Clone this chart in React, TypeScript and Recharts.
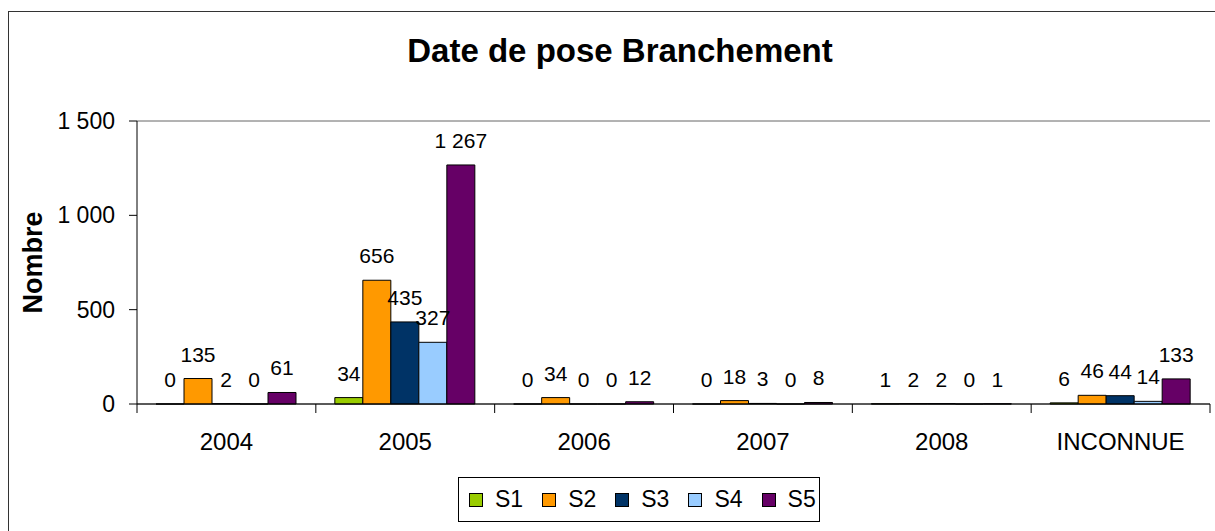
import React from 'react';
import { BarChart, Bar, XAxis, YAxis, CartesianGrid, LabelList, Label } from 'recharts';

const categories = ['2004', '2005', '2006', '2007', '2008', 'INCONNUE'];
const s1 = [0, 34, 0, 0, 1, 6];
const s2 = [135, 656, 34, 18, 2, 46];
const s3 = [2, 435, 0, 3, 2, 44];
const s4 = [0, 327, 0, 0, 0, 14];
const s5 = [61, 1267, 12, 8, 1, 133];
const yTicks = [0, 500, 1000, 1500];

const seriesNames = ['S1', 'S2', 'S3', 'S4', 'S5'];
const seriesColors = ['#99CC00', '#FF9900', '#003366', '#99CCFF', '#660066'];

const data = categories.map((c, i) => ({
  name: c,
  S1: s1[i],
  S2: s2[i],
  S3: s3[i],
  S4: s4[i],
  S5: s5[i],
}));

const FONT = 'Arial, "Liberation Sans", sans-serif';

// "1267" -> "1 267"
const fmt = (v: any) => String(v).replace(/\B(?=(\d{3})+(?!\d))/g, ' ');

// category label centred, tick marks on the category boundaries
const XTick = (props: any) => {
  const { x, y, payload, index } = props;
  const half = payload?.offset ?? 89.4;
  const last = index === categories.length - 1;
  return (
    <g>
      <line x1={x - half} x2={x - half} y1={y} y2={y + 9} stroke="#000" />
      {last && <line x1={x + half} x2={x + half} y1={y} y2={y + 9} stroke="#000" />}
      <text x={x} y={y + 46} textAnchor="middle" fontSize={24} fontFamily={FONT} fill="#000">
        {payload.value}
      </text>
    </g>
  );
};

// value label above the bar, no wrapping
const BarValue = (p: any) => {
  if (p.value === undefined || p.value === null) return null;
  const cx = Number(p.x) + Number(p.width) / 2;
  const top = Math.min(Number(p.y), Number(p.y) + Number(p.height));
  return (
    <text x={cx} y={top - 17} textAnchor="middle" fontSize={21} fontFamily={FONT} fill="#000">
      {fmt(p.value)}
    </text>
  );
};

// zero bars get a hairline so their "0" label is still drawn
const zeroMin = (v: any) => (Number(v) === 0 ? 0.01 : 0);

export default function App() {
  return (
    <div style={{ position: 'absolute', left: 0, top: 0, width: 1215, height: 531, overflow: 'hidden', background: '#fff', fontFamily: FONT }}>
      <div style={{ position: 'absolute', left: 8, top: 11, width: 1230, height: 600, border: '1px solid #333' }} />
      <div style={{ position: 'absolute', left: 320, width: 600, top: 32, textAlign: 'center', fontSize: 33, fontWeight: 'bold', color: '#000' }}>
        Date de pose Branchement
      </div>

      <div style={{ position: 'absolute', left: 0, top: 0 }}>
        <BarChart
          width={1215}
          height={531}
          data={data}
          margin={{ top: 121, right: 5, left: 0, bottom: 67 }}
          barGap={0}
          barSize={28}
        >
          <CartesianGrid horizontal vertical={false} stroke="#666" />
          <XAxis
            dataKey="name"
            height={60}
            stroke="#000"
            tickLine={false}
            tickSize={0}
            tickMargin={0}
            tick={<XTick />}
            interval={0}
          />
          <YAxis
            yAxisId="l"
            width={137}
            domain={[0, 1500]}
            ticks={yTicks}
            tickFormatter={fmt}
            stroke="#000"
            tickSize={8}
            tickMargin={14}
            tick={{ fontSize: 23, fill: '#000', fontFamily: FONT }}
          >
            <Label
              content={(p: any) => {
                const vb = p.viewBox || { x: 0, y: 121, width: 137, height: 283 };
                const cx = vb.x + 33;
                const cy = vb.y + vb.height / 2;
                return (
                  <text
                    x={cx}
                    y={cy}
                    transform={`rotate(-90 ${cx} ${cy})`}
                    textAnchor="middle"
                    dominantBaseline="central"
                    fontSize={27}
                    fontWeight="bold"
                    fontFamily={FONT}
                    fill="#000"
                  >
                    Nombre
                  </text>
                );
              }}
            />
          </YAxis>
          <YAxis yAxisId="r" orientation="right" width={0} stroke="#888" tick={false} tickLine={false} />
          {seriesNames.map((s, i) => (
            <Bar
              key={s}
              yAxisId="l"
              dataKey={s}
              fill={seriesColors[i]}
              stroke="#000"
              strokeWidth={1}
              minPointSize={zeroMin}
              isAnimationActive={false}
            >
              <LabelList dataKey={s} content={<BarValue />} />
            </Bar>
          ))}
        </BarChart>
      </div>

      <div
        style={{
          position: 'absolute',
          left: 458,
          top: 477,
          width: 362,
          height: 45,
          boxSizing: 'border-box',
          border: '1px solid #000',
          display: 'flex',
          alignItems: 'center',
          paddingLeft: 10,
          gap: 19,
          fontSize: 23,
          color: '#000',
        }}
      >
        {seriesNames.map((s, i) => (
          <div key={s} style={{ display: 'flex', alignItems: 'center' }}>
            <span style={{ display: 'inline-block', width: 12, height: 12, background: seriesColors[i], border: '1px solid #000', marginRight: 12 }} />
            <span>{s}</span>
          </div>
        ))}
      </div>
    </div>
  );
}
